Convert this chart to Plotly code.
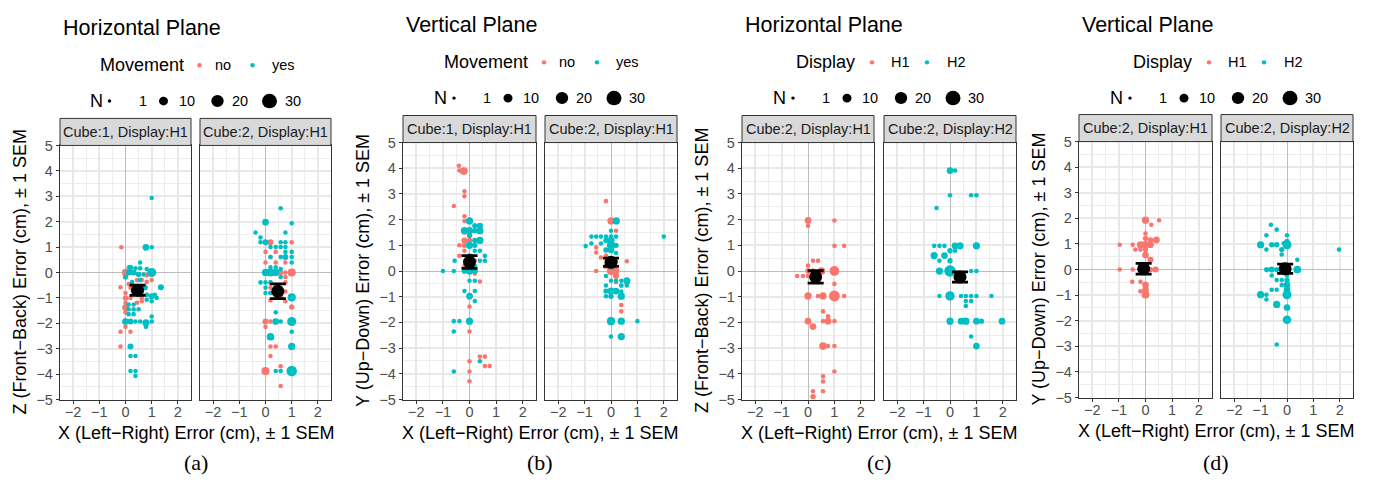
import numpy as np
import plotly.graph_objects as go

W, H = 1375, 487          # target picture size
OFF = 8                   # default page body margin
FW, FH = W - 2 * OFF, H - 2 * OFF
RED = "#F8766D"
TEAL = "#00BFC4"
FONT = "Liberation Sans, Arial, sans-serif"

# ---------------- data: (x error, y error, N) ----------------
a1_no = [(-0.16, 0.99, 2), (0.0, 0.0, 6), (0.19, 0.0, 3), (0.0, -0.18, 3), (0.12, 0.2, 2), (-0.19, -0.58, 2),
         (0.81, -0.11, 2), (1.0, -0.3, 2), (0.81, -0.37, 2), (0.62, -0.3, 2), (0.0, -0.81, 2), (0.0, -1.0, 3),
         (0.0, -1.19, 2), (0.0, -1.38, 5), (0.0, -1.57, 2), (0.19, -1.0, 2), (0.81, -0.88, 2), (0.62, -1.0, 2),
         (0.62, -1.13, 2), (0.44, -1.19, 2), (0.0, -2.14, 2), (-0.19, -2.33, 2), (0.19, -2.33, 2),
         (-0.19, -2.91, 2), (0.0, -1.93, 4), (0.19, -0.6, 2), (0.44, -0.3, 2), (0.3, -0.75, 3), (0.6, -0.55, 2),
         (0.12, -0.45, 2)]
a1_yes = [(1.0, 2.93, 2), (0.78, 0.99, 5), (1.0, 0.99, 2), (0.56, 0.39, 2), (0.19, 0.2, 3), (0.38, 0.17, 2),
          (0.56, 0.17, 2), (0.81, 0.14, 2), (0.12, 0.0, 4), (0.31, 0.0, 4), (0.5, -0.08, 3), (0.69, -0.08, 2),
          (1.0, 0.0, 10), (1.35, -0.58, 4), (1.12, -0.88, 2), (1.0, -0.94, 4), (0.81, -0.88, 2), (1.19, -1.0, 2),
          (1.0, -1.13, 2), (0.81, -1.07, 2), (0.12, -1.26, 2), (0.31, -1.26, 2), (0.12, -1.45, 2),
          (0.31, -1.45, 2), (0.12, -1.64, 2), (0.31, -1.64, 2), (0.5, -1.45, 2), (0.0, -1.93, 5),
          (0.19, -1.93, 4), (0.38, -1.93, 2), (0.56, -1.93, 2), (0.78, -1.98, 6), (1.0, -1.73, 2),
          (1.0, -1.93, 2), (0.78, -2.14, 2), (0.19, -2.91, 4), (0.19, -3.29, 2), (0.38, -3.29, 2),
          (0.19, -3.88, 2), (0.38, -3.88, 2), (0.38, -4.07, 2), (0.0, -0.18, 2), (0.56, -0.3, 2),
          (0.25, -0.38, 2), (0.75, -0.6, 3), (0.62, -0.75, 2)]
a2_no = [(0.19, 1.19, 4), (1.0, 1.19, 2), (0.39, 0.81, 2), (0.0, 0.81, 2), (0.19, 0.61, 2), (0.0, 0.39, 2),
         (0.39, 0.39, 2), (0.76, 0.39, 2), (0.58, 0.0, 3), (1.0, 0.0, 8), (0.76, 0.0, 2), (0.76, -0.18, 2),
         (0.76, -0.39, 2), (0.19, -0.39, 2), (0.39, -0.6, 3), (0.19, -0.6, 2), (0.76, -0.75, 2),
         (0.19, -0.81, 2), (1.0, -1.36, 3), (0.76, -1.13, 2), (0.0, -1.93, 4), (0.0, -2.14, 2),
         (0.19, -1.93, 2), (0.19, -2.91, 2), (0.39, -2.91, 2), (0.19, -3.29, 2), (0.0, -3.88, 8),
         (0.58, -3.69, 2), (0.58, -4.47, 2), (0.39, -1.0, 2), (0.58, -0.95, 3), (0.19, -1.1, 2)]
a2_yes = [(0.58, 2.53, 2), (0.0, 1.98, 5), (1.0, 1.94, 2), (-0.38, 1.57, 2), (0.76, 1.57, 2), (-0.19, 1.38, 2),
          (0.0, 1.19, 4), (-0.19, 1.19, 2), (0.58, 1.19, 2), (0.76, 1.19, 2), (0.19, 1.0, 2), (0.39, 1.0, 2),
          (0.58, 1.0, 2), (0.76, 1.0, 2), (0.76, 0.61, 4), (0.58, 0.61, 2), (1.0, 0.61, 2), (1.0, 0.81, 2),
          (1.0, 0.39, 2), (0.19, 0.61, 2), (0.76, 0.81, 2), (0.0, 0.0, 6), (0.19, 0.0, 8), (0.39, 0.0, 6),
          (0.58, 0.14, 2), (0.19, 0.2, 2), (0.39, 0.2, 2), (0.58, -0.18, 2), (-0.19, -0.39, 2), (0.0, -0.39, 2),
          (0.19, -0.39, 2), (1.0, -0.98, 8), (1.0, -1.93, 10), (1.0, -2.33, 2), (1.0, -2.91, 6),
          (1.0, -3.88, 14), (0.39, -1.93, 5), (0.58, -1.93, 2), (0.39, -1.57, 2), (0.19, -2.53, 7),
          (0.39, -3.88, 2), (0.58, -3.88, 2), (0.0, -0.6, 2), (0.0, -0.81, 2), (0.19, -0.81, 2)]
b1_no = [(-0.4, 4.1, 2), (-0.38, 3.91, 2), (-0.21, 3.89, 7), (-0.19, 3.1, 2), (-0.19, 2.91, 2), (-0.59, 2.53, 2),
         (-0.19, 2.13, 2), (-0.19, 1.95, 2), (-0.19, 1.19, 4), (0.0, 1.19, 3), (-0.38, 1.0, 2), (-0.19, 1.0, 3),
         (-0.19, 0.79, 2), (-0.38, 0.59, 2), (0.0, 0.59, 3), (-0.19, 0.0, 3), (0.0, 0.0, 3), (-0.19, 0.19, 2),
         (0.39, -0.41, 2), (0.0, -1.38, 2), (0.0, -2.35, 2), (0.0, -3.51, 2), (0.0, -3.91, 2), (0.0, -4.29, 2),
         (0.39, -3.33, 2), (0.58, -3.33, 2), (0.58, -3.7, 2), (0.76, -3.7, 2), (-0.19, 1.5, 2), (0.2, 0.4, 2),
         (0.2, -0.1, 2)]
b1_yes = [(0.0, 1.95, 6), (-0.19, 1.57, 6), (0.0, 1.57, 6), (0.2, 1.76, 3), (0.39, 1.76, 4), (0.39, 1.57, 6),
          (0.2, 1.57, 3), (0.0, 1.38, 3), (0.2, 1.19, 3), (0.39, 1.19, 6), (0.0, 1.0, 6), (0.2, 1.0, 3),
          (0.2, 0.79, 2), (0.39, 0.79, 2), (0.0, 0.59, 3), (0.58, 0.59, 2), (0.58, 0.4, 2), (0.39, 0.4, 2),
          (0.2, 0.19, 2), (-0.56, 0.4, 2), (-1.0, 0.0, 2), (-0.59, 0.0, 2), (-0.19, 0.0, 3), (0.0, 0.0, 6),
          (0.2, 0.0, 4), (0.0, -0.38, 2), (0.2, -0.38, 2), (-0.19, -0.78, 2), (0.2, -0.78, 2), (0.0, -0.98, 5),
          (0.2, -1.17, 2), (0.0, -1.95, 6), (-0.59, -1.95, 2), (-0.38, -1.95, 2), (-0.59, -2.35, 2),
          (0.39, -3.51, 2), (-0.59, -3.91, 2)]
b2_no = [(-0.19, 2.72, 2), (0.0, 1.95, 6), (0.19, 1.57, 2), (-0.56, 0.92, 2), (-0.56, 0.72, 2), (-0.56, 0.0, 2),
         (-0.38, 0.53, 2), (-0.19, 0.19, 3), (0.0, 0.0, 8), (0.19, 0.0, 5), (0.19, -0.19, 4), (0.39, -0.56, 2),
         (0.6, 0.38, 2), (0.19, -0.44, 2), (0.39, -1.57, 2), (0.39, -1.32, 2), (0.39, -1.0, 3), (-0.19, 0.6, 2),
         (0.0, 0.3, 3)]
b2_yes = [(0.2, 1.95, 6), (0.0, 1.57, 2), (0.0, 1.34, 2), (0.19, 1.34, 2), (-0.96, 0.97, 2), (-0.74, 1.34, 2),
          (-0.56, 1.34, 2), (-0.38, 1.34, 2), (-0.19, 1.34, 2), (-0.74, 1.07, 2), (-0.38, 1.07, 2),
          (-0.19, 1.19, 3), (0.0, 1.19, 6), (0.0, 1.0, 8), (0.19, 1.0, 3), (0.0, 0.82, 5), (-0.19, 0.82, 3),
          (0.19, 0.7, 2), (0.0, 0.38, 3), (0.19, 0.38, 2), (0.0, 0.19, 4), (2.0, 1.34, 2), (-0.19, -0.19, 2),
          (0.0, -0.38, 2), (0.19, -0.38, 2), (0.39, -0.38, 2), (0.6, -0.38, 6), (0.6, -0.56, 2),
          (0.39, -0.56, 2), (-0.19, -0.56, 2), (0.0, -0.78, 6), (0.19, -0.78, 5), (-0.19, -0.78, 3),
          (0.39, -0.8, 2), (0.0, -0.98, 3), (0.39, -0.98, 6), (-0.19, -0.98, 2), (0.0, -1.95, 8),
          (0.39, -1.95, 6), (1.0, -1.95, 2), (0.0, -2.55, 2), (0.39, -2.55, 6)]
c1_h1 = [(0.0, 1.97, 5), (0.0, 1.76, 2), (1.0, 1.97, 2), (1.0, 0.98, 2), (1.37, 0.98, 2), (0.19, 0.4, 2),
         (0.38, 0.4, 2), (0.0, 0.21, 2), (-0.41, -0.19, 2), (-0.19, -0.19, 2), (0.0, 0.0, 3), (0.19, 0.0, 3),
         (0.0, -0.19, 2), (0.51, 0.0, 7), (1.0, 0.0, 12), (1.0, -0.5, 2), (0.0, -0.97, 6), (0.38, -0.97, 2),
         (0.57, -0.97, 6), (1.0, -0.97, 15), (1.37, -0.97, 2), (0.57, -1.57, 2), (0.76, -1.76, 2),
         (0.0, -1.95, 5), (0.19, -2.16, 5), (0.57, -1.95, 2), (0.76, -1.95, 5), (1.0, -1.95, 2),
         (0.57, -2.92, 7), (0.76, -2.92, 2), (1.0, -2.92, 2), (1.0, -3.91, 2), (0.57, -4.1, 2),
         (0.57, -4.3, 2), (0.57, -4.68, 2), (0.19, -4.68, 2), (0.19, -4.89, 3)]
c2_h2 = [(0.0, 3.91, 5), (0.19, 3.91, 2), (0.0, 2.95, 2), (0.8, 2.95, 2), (1.0, 2.95, 2), (-0.51, 2.45, 2),
         (-0.6, 0.98, 2), (-0.4, 0.98, 2), (-0.21, 0.98, 2), (0.19, 0.98, 5), (0.38, 0.98, 6), (0.19, 0.79, 2),
         (1.0, 0.98, 6), (-0.6, 0.6, 6), (-0.21, 0.6, 5), (-0.4, 0.4, 2), (0.0, 0.79, 3), (0.0, 0.4, 3),
         (-0.4, 0.0, 6), (0.0, 0.0, 17), (0.8, 0.0, 2), (1.0, 0.0, 2), (-0.4, -0.97, 2), (0.0, -0.97, 11),
         (0.6, -0.97, 2), (0.8, -0.97, 2), (1.0, -0.97, 2), (1.57, -0.97, 2), (0.6, -1.17, 2), (0.8, -1.17, 2),
         (0.6, -1.36, 2), (0.42, -0.97, 2), (0.0, -1.95, 6), (0.42, -1.95, 5), (0.6, -1.95, 6),
         (1.0, -1.95, 5), (1.19, -1.95, 3), (1.97, -1.95, 5), (0.8, -2.55, 2), (1.0, -2.92, 5)]
d1_h1 = [(0.0, 1.93, 6), (0.51, 1.93, 2), (0.22, 1.75, 2), (0.0, 1.41, 2), (0.0, 1.22, 3), (0.41, 1.16, 5),
         (0.19, 1.16, 3), (-0.97, 0.97, 2), (-0.48, 0.97, 2), (-0.19, 0.97, 6), (0.0, 0.97, 7), (0.19, 0.97, 5),
         (-0.38, 0.78, 2), (-0.19, 0.78, 2), (0.0, 0.78, 3), (0.0, 0.57, 5), (0.19, 0.38, 4), (0.0, 0.19, 2),
         (-0.97, 0.0, 2), (-0.48, 0.0, 2), (-0.19, 0.0, 3), (0.38, 0.0, 4), (0.19, 0.0, 3), (-0.5, -0.48, 2),
         (-0.19, -0.48, 2), (0.0, -0.6, 5), (0.0, -0.79, 5), (0.0, -0.98, 7), (-0.19, -0.85, 2)]
d2_h2 = [(-0.61, 1.75, 2), (-0.39, 1.56, 2), (-0.78, 1.34, 2), (0.0, 1.34, 2), (-1.0, 0.97, 6), (-0.58, 0.97, 3),
         (-0.39, 0.97, 3), (0.0, 0.97, 10), (-0.12, 1.03, 2), (-0.78, 0.78, 2), (-0.2, 0.78, 3), (0.0, 1.1, 3),
         (-0.2, 0.59, 2), (0.39, 0.38, 2), (1.97, 0.78, 2), (-0.77, 0.0, 3), (-0.58, 0.0, 4), (-0.39, 0.0, 3),
         (-0.2, 0.0, 2), (0.0, 0.0, 3), (0.39, 0.0, 7), (-0.58, -0.23, 2), (-0.39, -0.41, 2), (-0.2, -0.41, 2),
         (0.0, -0.23, 2), (0.0, -0.6, 5), (0.0, -0.41, 3), (-0.2, -0.6, 2), (-0.58, -0.79, 2),
         (-0.39, -0.79, 2), (0.0, -0.79, 5), (-1.0, -0.98, 6), (-0.78, -0.98, 2), (-0.78, -1.17, 2),
         (0.0, -0.98, 10), (-0.39, -1.36, 6), (0.0, -1.48, 5), (0.0, -1.96, 9), (-0.39, -2.93, 2)]

# means and SEM per facet (a1, a2, b1, b2, c1, c2, d1, d2)
mean_x = [0.46, 0.47, 0.0, 0.0, 0.29, 0.38, -0.07, -0.07]
mean_y = [-0.70, -0.74, 0.35, 0.34, -0.23, -0.23, 0.03, 0.03]
sem_x = [0.12, 0.10, 0.06, 0.08, 0.08, 0.08, 0.08, 0.08]
sem_y = [0.20, 0.29, 0.25, 0.16, 0.24, 0.20, 0.21, 0.18]

strip_labels = ["Cube:1, Display:H1", "Cube:2, Display:H1", "Cube:1, Display:H1", "Cube:2, Display:H1",
                "Cube:2, Display:H1", "Cube:2, Display:H2", "Cube:2, Display:H1", "Cube:2, Display:H2"]
plot_titles = ["Horizontal Plane", "Vertical Plane", "Horizontal Plane", "Vertical Plane"]
legend_titles = ["Movement", "Movement", "Display", "Display"]
legend_labels = [["no", "yes"], ["no", "yes"], ["H1", "H2"], ["H1", "H2"]]
y_titles = ["Z (Front\u2212Back) Error (cm), \u00b1 1 SEM", "Y (Up\u2212Down) Error (cm), \u00b1 1 SEM",
            "Z (Front\u2212Back) Error (cm), \u00b1 1 SEM", "Y (Up\u2212Down) Error (cm), \u00b1 1 SEM"]
x_title = "X (Left\u2212Right) Error (cm), \u00b1 1 SEM"
captions = ["(a)", "(b)", "(c)", "(d)"]
size_breaks = [1, 10, 20, 30]
x_ticks = [-2, -1, 0, 1, 2]
y_ticks = [-5, -4, -3, -2, -1, 0, 1, 2, 3, 4, 5]

facet_series = [
    [(a1_no, RED), (a1_yes, TEAL)], [(a2_no, RED), (a2_yes, TEAL)],
    [(b1_no, RED), (b1_yes, TEAL)], [(b2_no, RED), (b2_yes, TEAL)],
    [(c1_h1, RED)], [(c2_h2, TEAL)],
    [(d1_h1, RED)], [(d2_h2, TEAL)],
]

# ---------------- layout geometry (target px) ----------------
boxes = [(60, 191, 142, 405), (200, 331, 142, 405),
         (403, 536, 139, 405), (545, 677, 139, 405),
         (742, 874, 139, 405), (884, 1016, 139, 405),
         (1079, 1212, 138, 403), (1221, 1353, 138, 403)]
STRIP_H = 28


def sz(n):
    return 3.5 + 11.5 * (np.sqrt(n) - 1) / (np.sqrt(30) - 1)


def X(px):
    return (px - OFF) / FW


def Y(py):
    return 1 - (py - OFF) / FH


fig = go.Figure()
shapes = []
annotations = []
layout_axes = {}

for i, (l, r, t, b) in enumerate(boxes):
    s = "" if i == 0 else str(i + 1)
    for pts, col in facet_series[i]:
        fig.add_trace(go.Scatter(
            x=[p[0] for p in pts], y=[p[1] for p in pts], mode="markers",
            marker=dict(size=[sz(p[2]) for p in pts], color=col, line=dict(width=0), opacity=1),
            xaxis="x" + s, yaxis="y" + s, showlegend=False, hoverinfo="skip"))
    fig.add_trace(go.Scatter(
        x=[mean_x[i]], y=[mean_y[i]], mode="markers",
        marker=dict(size=13, color="black"),
        error_y=dict(type="data", array=[sem_y[i]], width=8, thickness=2.8, color="black"),
        error_x=dict(type="data", array=[sem_x[i]], width=4, thickness=2.8, color="black"),
        xaxis="x" + s, yaxis="y" + s, showlegend=False, hoverinfo="skip"))

    common = dict(showgrid=True, gridcolor="#E8E8E8", gridwidth=1.5,
                  minor=dict(dtick=0.5, showgrid=True, gridcolor="#EDEDED", gridwidth=1.0),
                  zeroline=True, zerolinecolor="#BDBDBD", zerolinewidth=1.3,
                  showline=True, mirror=True, linecolor="#333333", linewidth=1.3,
                  ticks="outside", ticklen=3, tickcolor="#333333", tickwidth=1,
                  tickfont=dict(family=FONT, size=14.5, color="#4D4D4D"), fixedrange=True)
    layout_axes["xaxis" + s] = dict(domain=[X(l), X(r)], anchor="y" + s, range=[-2.5, 2.5],
                                    tickmode="array", tickvals=x_ticks, ticklabelstandoff=-4, **common)
    yax = dict(domain=[Y(b), Y(t)], anchor="x" + s, range=[-5, 5],
               tickmode="array", tickvals=y_ticks, **common)
    if i % 2 == 1:
        yax["showticklabels"] = False
        yax["ticks"] = ""
    layout_axes["yaxis" + s] = yax

    # strip
    shapes.append(dict(type="rect", xref="paper", yref="paper", x0=X(l), x1=X(r),
                       y0=Y(t), y1=Y(t - STRIP_H), fillcolor="#D9D9D9",
                       line=dict(color="#333333", width=1), layer="above"))
    annotations.append(dict(text=strip_labels[i], x=X((l + r) / 2), y=Y(t - STRIP_H / 2),
                            xref="paper", yref="paper", showarrow=False, xanchor="center", yanchor="middle",
                            font=dict(family=FONT, size=14.5, color="#1A1A1A")))

# panel-level texts and legends
for p in range(4):
    l = boxes[2 * p][0]
    r = boxes[2 * p + 1][1]
    t = boxes[2 * p][2]
    b = boxes[2 * p][3]
    c = (l + r) / 2
    dy = 3 if p == 0 else 0
    ty = 17 + dy
    r1 = 56 + dy
    r2 = 93 + dy

    def txt(s, x, y, size, anchor="left", color="black", family=FONT, angle=0):
        annotations.append(dict(text=s, x=X(x), y=Y(y), xref="paper", yref="paper", showarrow=False,
                                xanchor=anchor, yanchor="middle", textangle=angle, borderpad=0,
                                font=dict(family=family, size=size, color=color)))

    def dot(cx, cy, d, col):
        shapes.append(dict(type="circle", xref="paper", yref="paper",
                           x0=X(cx - d / 2), x1=X(cx + d / 2), y0=Y(cy + d / 2), y1=Y(cy - d / 2),
                           fillcolor=col, line=dict(width=0), layer="above"))

    txt(plot_titles[p], l + 2, ty, 21.5)
    # colour legend
    if legend_titles[p] == "Movement":
        pos = [-97, 4, 18, 57, 75]
    else:
        pos = [-84, -7, 11, 48, 67]
    txt(legend_titles[p], c + pos[0], r1, 18)
    dot(c + pos[1], r1, 4.5, RED)
    txt(legend_labels[p][0], c + pos[2], r1, 14.5)
    dot(c + pos[3], r1, 4.5, TEAL)
    txt(legend_labels[p][1], c + pos[4], r1, 14.5)
    # size legend
    txt("N", c - 107, r2, 18)
    dpos = [-86, -32, 22, 74]
    lpos = [-58, -18, 35, 88]
    for k, n in enumerate(size_breaks):
        dot(c + dpos[k], r2, sz(n), "black")
        txt(str(n), c + lpos[k], r2, 14.5)
    # axis titles
    txt(y_titles[p], l - 40, (t + b) / 2, 18, anchor="center", angle=-90)
    txt(x_title, c, b + 35, 18, anchor="center")
    txt(captions[p], c, 470, 22, anchor="center", family="Liberation Serif, Times New Roman, serif")

fig.update_layout(width=FW, height=FH, margin=dict(l=0, r=0, t=0, b=0),
                  paper_bgcolor="white", plot_bgcolor="white",
                  shapes=shapes, annotations=annotations, showlegend=False, **layout_axes)

fig.write_html("out.html")
